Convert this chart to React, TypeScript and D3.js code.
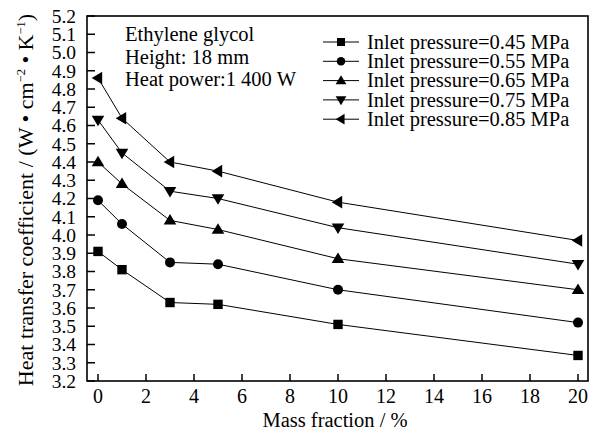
import React from "react";
import * as d3 from "d3";

const massFraction = [0, 1, 3, 5, 10, 20];
const seriesNames = [
  "Inlet pressure=0.45 MPa",
  "Inlet pressure=0.55 MPa",
  "Inlet pressure=0.65 MPa",
  "Inlet pressure=0.75 MPa",
  "Inlet pressure=0.85 MPa",
];
const p045 = [3.91, 3.81, 3.63, 3.62, 3.51, 3.34];
const p055 = [4.19, 4.06, 3.85, 3.84, 3.70, 3.52];
const p065 = [4.40, 4.28, 4.08, 4.03, 3.87, 3.70];
const p075 = [4.63, 4.45, 4.24, 4.20, 4.04, 3.84];
const p085 = [4.86, 4.64, 4.40, 4.35, 4.18, 3.97];
const seriesValues = [p045, p055, p065, p075, p085];
const markerTypes = ["square", "circle", "up", "down", "left"];
const xTicks = [0, 2, 4, 6, 8, 10, 12, 14, 16, 18, 20];
const yTicks = d3.range(32, 53).map((v) => v / 10);
const annotations = ["Ethylene glycol", "Height: 18 mm", "Heat power:1 400 W"];

const W = 595;
const H = 434;
const left = 87;
const right = 588;
const top = 16;
const bottom = 381;
const FONT = "'Liberation Serif', 'Times New Roman', serif";

function Marker({ type, x, y }: { type: string; x: number; y: number }) {
  if (type === "square") return <rect x={x - 4.7} y={y - 4.7} width={9.4} height={9.4} fill="#000" />;
  if (type === "circle") return <circle cx={x} cy={y} r={5} fill="#000" />;
  let pts: [number, number][] = [];
  const b = 6.3; // half base
  const h = 10.5; // height
  if (type === "up") pts = [[x, y - h * 0.6], [x - b, y + h * 0.4], [x + b, y + h * 0.4]];
  if (type === "down") pts = [[x, y + h * 0.6], [x - b, y - h * 0.4], [x + b, y - h * 0.4]];
  if (type === "left") pts = [[x - h * 0.6, y], [x + h * 0.4, y - b], [x + h * 0.4, y + b]];
  return <polygon points={pts.map((p) => p.join(",")).join(" ")} fill="#000" />;
}

export default function App() {
  const x = d3.scaleLinear().domain([0, 20]).range([98, 578]);
  const y = d3.scaleLinear().domain([3.2, 5.2]).range([bottom, top]);
  const line = d3
    .line<number>()
    .x((_, i) => x(massFraction[i]))
    .y((d) => y(d));

  return (
    <svg width={W} height={H} style={{ position: "absolute", left: 0, top: 0, background: "#fff" }} fontFamily={FONT}>
      <rect x={0} y={0} width={W} height={H} fill="#fff" />
      {/* frame */}
      <rect x={left} y={top} width={right - left} height={bottom - top} fill="none" stroke="#000" strokeWidth={1.6} />
      {/* y ticks */}
      {yTicks.map((t) => (
        <g key={"y" + t}>
          <line x1={left} x2={left + 8} y1={y(t)} y2={y(t)} stroke="#000" strokeWidth={1.5} />
          <text x={76} y={y(t)} dy="0.35em" textAnchor="end" fontSize={19.5}>
            {t.toFixed(1)}
          </text>
        </g>
      ))}
      {/* x ticks */}
      {xTicks.map((t) => (
        <g key={"x" + t}>
          <line x1={x(t)} x2={x(t)} y1={bottom} y2={bottom - 7} stroke="#000" strokeWidth={1.5} />
          <text x={x(t)} y={403} textAnchor="middle" fontSize={20}>
            {t}
          </text>
        </g>
      ))}
      {/* axis titles */}
      <text x={335} y={427} textAnchor="middle" fontSize={20.5}>
        Mass fraction / %
      </text>
      <text transform="translate(33,200) rotate(-90)" textAnchor="middle" fontSize={22}>
        Heat transfer coefficient / (W • cm
        <tspan dy={-8} fontSize={12.5}>−2</tspan>
        <tspan dy={8}> • K</tspan>
        <tspan dy={-8} fontSize={12.5}>−1</tspan>
        <tspan dy={8}>)</tspan>
      </text>
      {/* series */}
      {seriesValues.map((vals, si) => (
        <g key={"s" + si}>
          <path d={line(vals) || ""} fill="none" stroke="#000" strokeWidth={1} />
          {vals.map((v, i) => (
            <Marker key={i} type={markerTypes[si]} x={x(massFraction[i])} y={y(v)} />
          ))}
        </g>
      ))}
      {/* annotations */}
      {annotations.map((a, i) => (
        <text key={a} x={125} y={41 + i * 22.5} fontSize={20.5}>
          {a}
        </text>
      ))}
      {/* legend */}
      {seriesNames.map((n, i) => {
        const ly = 42 + i * 19.3;
        return (
          <g key={n}>
            <line x1={323} x2={359} y1={ly} y2={ly} stroke="#000" strokeWidth={1} />
            <g transform={`translate(341,${ly}) scale(0.85) translate(-341,${-ly})`}>
              <Marker type={markerTypes[i]} x={341} y={ly} />
            </g>
            <text x={367} y={ly} dy="0.33em" fontSize={20.5}>
              {n}
            </text>
          </g>
        );
      })}
    </svg>
  );
}
